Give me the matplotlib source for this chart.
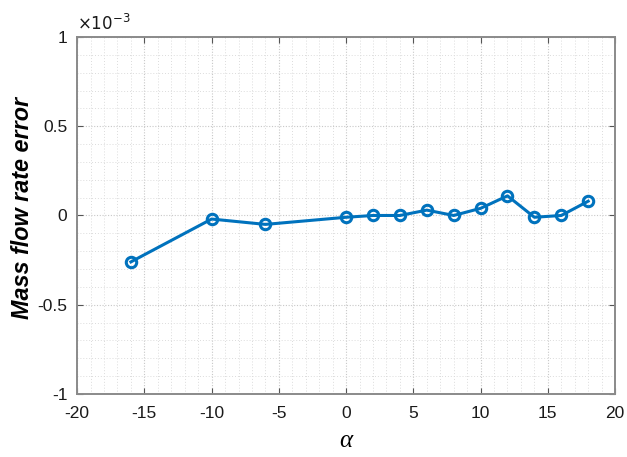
import matplotlib
matplotlib.use('Agg')
import matplotlib.pyplot as plt
from matplotlib.ticker import FuncFormatter, MultipleLocator

plt.rcParams['font.family'] = ['Liberation Sans', 'DejaVu Sans']

alpha = [-16, -10, -6, 0, 2, 4, 6, 8, 10, 12, 14, 16, 18]
# error values in units of 1e-3
err_e3 = [-0.26, -0.02, -0.05, -0.01, 0.0, 0.0, 0.03, 0.0, 0.04, 0.11, -0.01, 0.0, 0.08]
err = [v * 1e-3 for v in err_e3]

fig = plt.figure(figsize=(6.27, 4.57), dpi=100)
ax = fig.add_axes([0.123, 0.138, 0.858, 0.781])

ax.plot(alpha, err, '-o', color='#0072BD', lw=2.2, ms=7.5, mfc='none', mew=2.2)

ax.set_xlim(-20, 20)
ax.set_ylim(-1e-3, 1e-3)
ax.xaxis.set_major_locator(MultipleLocator(5))
ax.xaxis.set_minor_locator(MultipleLocator(1))
ax.yaxis.set_major_locator(MultipleLocator(0.5e-3))
ax.yaxis.set_minor_locator(MultipleLocator(0.1e-3))
ax.yaxis.set_major_formatter(FuncFormatter(lambda v, p: '%g' % round(v * 1e3, 3)))
ax.xaxis.set_major_formatter(FuncFormatter(lambda v, p: '%g' % v))

ax.grid(True, which='major', color='#c8c8c8', lw=0.8, ls=(0, (1, 1.5)))
ax.grid(True, which='minor', color='#dcdcdc', lw=0.7, ls=(0, (1, 2)))
ax.set_axisbelow(True)

for s in ax.spines.values():
    s.set_color('#8a8a8a')
    s.set_linewidth(1.4)
ax.tick_params(which='both', direction='in', top=True, right=True, labelsize=12.5, colors='#555555')
ax.tick_params(which='minor', length=0)
ax.tick_params(which='major', length=4, labelcolor='#1a1a1a')
ax.tick_params(axis='x', pad=9)
ax.tick_params(axis='y', pad=7)

ax.text(0.0, 1.012, r'$\times10^{-3}$', transform=ax.transAxes, fontsize=12, ha='left', va='bottom', color='#1a1a1a')
ax.set_ylabel('Mass flow rate error', fontsize=16.8, fontweight='bold', fontstyle='italic')
ax.yaxis.set_label_coords(-0.08, 0.52)
ax.set_xlabel('α', fontsize=18, family='Liberation Serif', fontstyle='italic', labelpad=6)

fig.savefig('out.png', dpi=100)
